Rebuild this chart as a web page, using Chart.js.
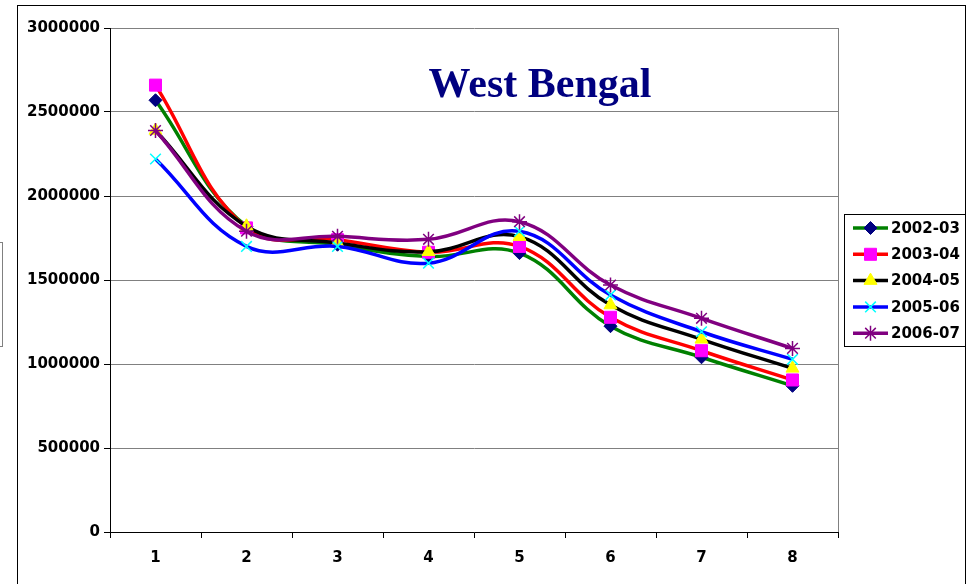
<!DOCTYPE html>
<html>
<head>
<meta charset="utf-8">
<script src="https://cdn.jsdelivr.net/npm/chart.js@4/dist/chart.umd.min.js"></script>
<style>
  body { margin: 0; background: #fff; }
  #wrap { width: 968px; height: 584px; }
</style>
</head>
<body>
<div id="wrap"><canvas id="wbChart" width="968" height="584"></canvas></div>
<script>
// data
const categories = ['1', '2', '3', '4', '5', '6', '7', '8'];
const yTicks = [0, 500000, 1000000, 1500000, 2000000, 2500000, 3000000];
const seriesNames = ['2002-03', '2003-04', '2004-05', '2005-06', '2006-07'];
const s2002 = [2570000, 1820000, 1710000, 1640000, 1660000, 1225000, 1040000, 870000];
const s2003 = [2660000, 1810000, 1740000, 1665000, 1700000, 1278000, 1079000, 905000];
const s2004 = [2390000, 1820000, 1720000, 1668000, 1758000, 1351000, 1147000, 974000];
const s2005 = [2220000, 1700000, 1700000, 1600000, 1790000, 1411000, 1192000, 1028000];
const s2006 = [2390000, 1790000, 1760000, 1742000, 1847000, 1470000, 1272000, 1093000];

const styles = [
  { line: '#008000', fill: '#000080', edge: '#000080', shape: 'rectRot', r: 6.5, bw: 1 },
  { line: '#FF0000', fill: '#FF00FF', edge: '#FF00FF', shape: 'rect', r: 8.5, bw: 1 },
  { line: '#000000', fill: '#FFFF00', edge: '#FFFF00', shape: 'triangle', r: 7.5, bw: 1 },
  { line: '#0000FF', fill: '#00FFFF', edge: '#00FFFF', shape: 'crossRot', r: 7.5, bw: 1.5 },
  { line: '#800080', fill: '#800080', edge: '#800080', shape: 'star', r: 7.5, bw: 1.5 }
];
const allSeries = [s2002, s2003, s2004, s2005, s2006];

const datasets = allSeries.map((vals, i) => ({
  label: seriesNames[i],
  data: vals,
  borderColor: styles[i].line,
  borderWidth: 3.5,
  tension: 0.4,
  pointStyle: styles[i].shape,
  pointRadius: styles[i].r,
  pointBackgroundColor: styles[i].fill,
  pointBorderColor: styles[i].edge,
  pointBorderWidth: styles[i].bw,
  order: allSeries.length - i,
  clip: false
}));

function marker(ctx, st, x, y) {
  ctx.save();
  ctx.fillStyle = st.fill;
  ctx.strokeStyle = st.edge;
  ctx.lineWidth = st.bw;
  if (Chart.helpers && Chart.helpers.drawPoint) {
    Chart.helpers.drawPoint(ctx, { pointStyle: st.shape, radius: st.r, rotation: 0, borderWidth: st.bw }, x, y);
  }
  ctx.restore();
}

const decor = {
  id: 'decor',
  beforeDatasetsDraw(chart) {
    const a = chart.chartArea;
    const ctx = chart.ctx;
    ctx.save();
    ctx.strokeStyle = '#808080';
    ctx.lineWidth = 1;
    ctx.beginPath();
    ctx.moveTo(a.right + 0.5, a.top);
    ctx.lineTo(a.right + 0.5, a.bottom);
    ctx.stroke();
    ctx.restore();
  },
  afterDraw(chart) {
    const ctx = chart.ctx;
    ctx.save();
    // outer frame
    ctx.strokeStyle = '#000';
    ctx.lineWidth = 1;
    ctx.strokeRect(17.5, 5.5, 948, 620);
    // stray box at the left edge
    ctx.strokeStyle = '#808080';
    ctx.strokeRect(-2.5, 242.5, 5, 104);

    // title
    ctx.fillStyle = '#000080';
    ctx.font = 'bold 42px "Liberation Serif", "Times New Roman", serif';
    ctx.textAlign = 'center';
    ctx.textBaseline = 'alphabetic';
    ctx.fillText('West Bengal', 540, 97);

    // legend
    ctx.strokeStyle = '#000';
    ctx.lineWidth = 1;
    ctx.strokeRect(844.5, 214.5, 121, 132);
    ctx.font = 'bold 15px "DejaVu Sans", sans-serif';
    ctx.textAlign = 'left';
    ctx.textBaseline = 'middle';
    seriesNames.forEach((name, i) => {
      const y = 228 + i * 26.3;
      ctx.strokeStyle = styles[i].line;
      ctx.lineWidth = 3.5;
      ctx.beginPath();
      ctx.moveTo(853, y);
      ctx.lineTo(888, y);
      ctx.stroke();
      marker(ctx, styles[i], 870.5, y);
      ctx.fillStyle = '#000';
      ctx.fillText(name, 891, y + 1);
    });
    ctx.restore();
  }
};

new Chart(document.getElementById('wbChart').getContext('2d'), {
  type: 'line',
  data: { labels: categories, datasets: datasets },
  options: {
    responsive: false,
    animation: false,
    events: [],
    layout: { padding: { left: 17, top: 28, right: 130, bottom: 12 } },
    plugins: {
      legend: { display: false },
      title: { display: false },
      tooltip: { enabled: false }
    },
    scales: {
      x: {
        offset: true,
        grid: { offset: true, drawOnChartArea: false, drawTicks: true, tickLength: 6, tickColor: '#000' },
        border: { color: '#000', width: 1 },
        ticks: { color: '#000', padding: 11, font: { family: '"DejaVu Sans", sans-serif', size: 15, weight: 'bold' } },
        afterFit(scale) { scale.height = 40; }
      },
      y: {
        min: 0,
        max: 3000000,
        afterBuildTicks(scale) { scale.ticks = yTicks.map(v => ({ value: v })); },
        grid: { color: '#808080', tickLength: 6, tickColor: '#000' },
        border: { color: '#000', width: 1 },
        ticks: {
          color: '#000',
          padding: 4,
          font: { family: '"DejaVu Sans", sans-serif', size: 15, weight: 'bold' },
          callback: v => String(v)
        },
        afterFit(scale) { scale.width = 93; }
      }
    }
  },
  plugins: [decor]
});
</script>
</body>
</html>
